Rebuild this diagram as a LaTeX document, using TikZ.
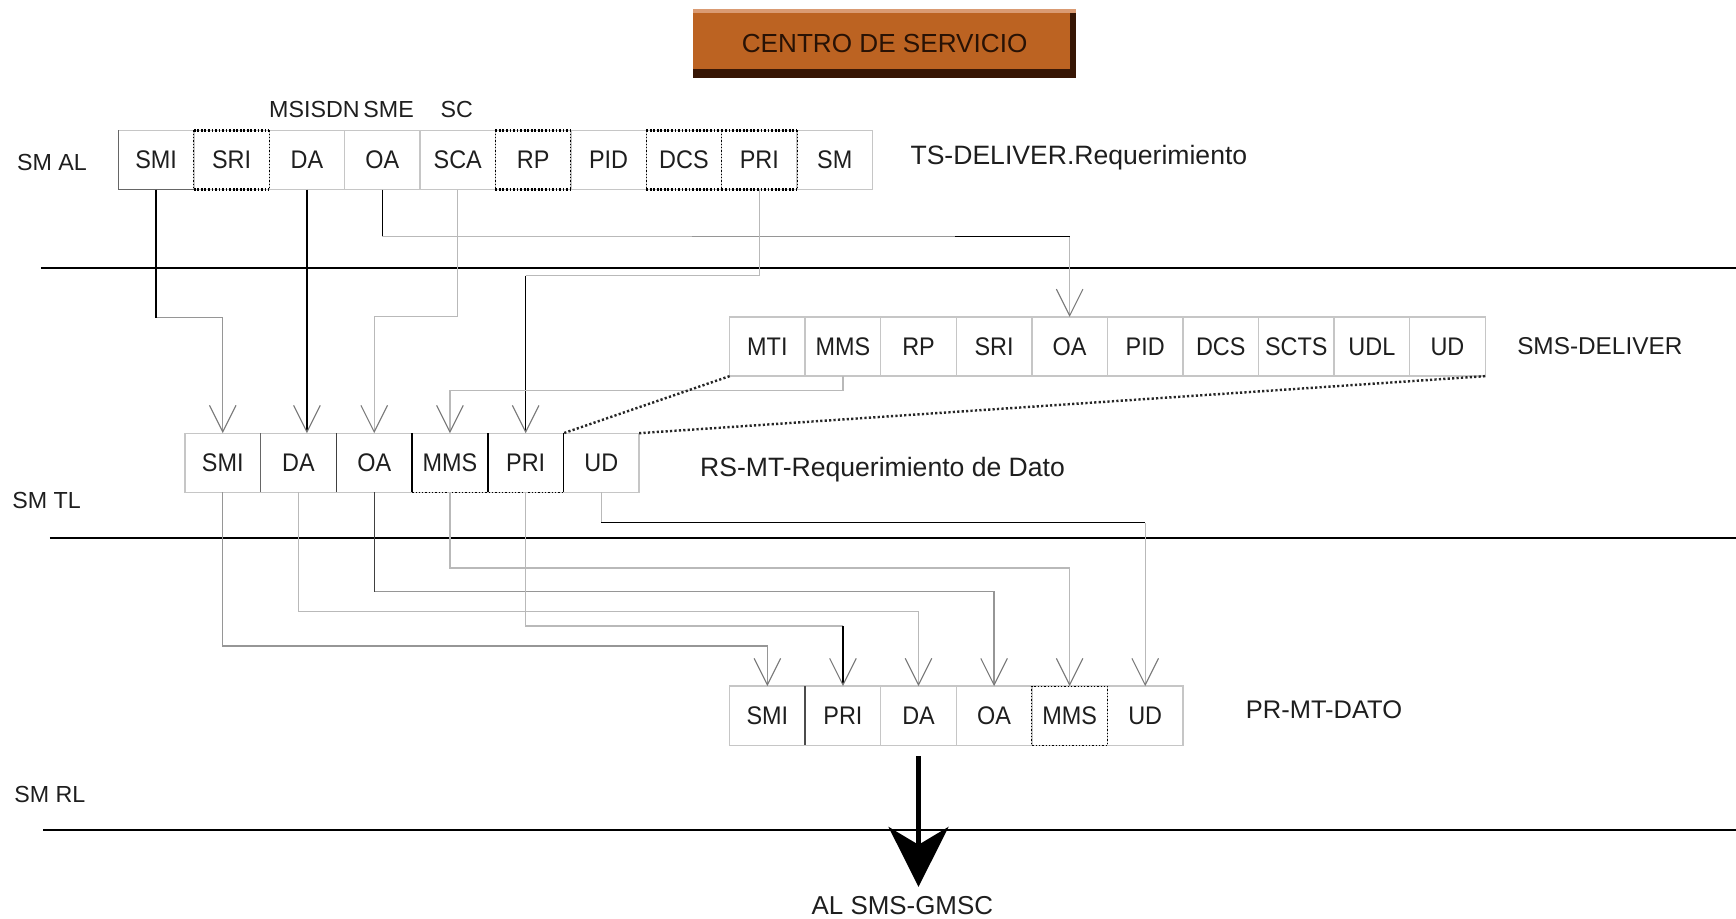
\documentclass[tikz,border=0pt]{standalone}
\usepackage{fontspec}
\setmainfont{Liberation Sans}
\newfontfamily\fldfont{Liberation Sans}[FakeStretch=0.92]
\usetikzlibrary{arrows.meta,calc}
\definecolor{brownbox}{RGB}{188,99,34}
\definecolor{browndark}{RGB}{55,22,5}
\definecolor{brownlight}{RGB}{218,155,115}
\definecolor{boxline}{RGB}{198,198,198}
\definecolor{ln1}{RGB}{150,150,150}
\definecolor{ln2}{RGB}{185,185,185}
\definecolor{arr}{RGB}{120,120,120}
\definecolor{txt}{RGB}{30,30,30}
\definecolor{cdstxt}{RGB}{40,18,5}
\begin{document}
\begin{tikzpicture}[x=0.5pt,y=-0.5pt,
 fld/.style={draw=boxline, line width=0.6pt, minimum width=34.1pt, minimum height=26.75pt, inner sep=0pt, outer sep=0pt, font=\fldfont\fontsize{11.5}{13}\selectfont, text=txt},
 lbl/.style={font=\fontsize{12}{14}\selectfont, text=txt, inner sep=0pt, anchor=west},
 lay/.style={font=\fontsize{10.5}{12}\selectfont, text=txt, inner sep=0pt},
 sepline/.style={line width=0.8pt, draw=black},
 vtip/.style={-{Straight Barb[length=12pt,width=12pt,line width=0.5pt,color=arr]}},
 gl/.style={draw=ln1, line width=0.6pt},
 gll/.style={draw=ln2, line width=0.6pt},
 bl/.style={draw=black, line width=0.7pt},
 dotb/.style={draw=black, line width=1.1pt, dash pattern=on 0.8pt off 0.8pt},
 dotn/.style={draw=black, line width=0.5pt, dash pattern=on 0.6pt off 0.9pt},
 expd/.style={draw=black!85, line width=1.1pt, dash pattern=on 1pt off 1pt}]

\useasboundingbox (0,0) rectangle (1568,830);

% service centre
\node[fill=brownbox, minimum width=173pt, minimum height=31pt, inner sep=0pt, outer sep=0pt,
  font=\fontsize{11.8}{14}\selectfont, text=cdstxt] (cds) at (799,39) {CENTRO DE SERVICIO};
\fill[browndark] (cds.south west) rectangle ([yshift=4pt]cds.south east);
\fill[browndark] ([xshift=-3pt]cds.south east) rectangle (cds.north east);
\fill[brownlight] (cds.north west) rectangle ([yshift=-2pt]cds.north east);

% layer separators
\draw[sepline] (37,242) -- (1568,242);
\draw[sepline] (45,486) -- (1568,486);
\draw[sepline] (39,750) -- (1568,750);

% layer labels
\node[lay] (smal) at (47,147) {SM AL};
\node[lay] (smtl) at (42,452) {SM TL};
\node[lay] (smrl) at (45,718) {SM RL};
\node[lay] (msisdn) at (284,99) {MSISDN};
\node[lay] (sme) at (351,99) {SME};
\node[lay] (sc) at (412.5,99) {SC};

% rows of fields
\foreach \t [count=\i] in {SMI,SRI,DA,OA,SCA,RP,PID,DCS,PRI,SM}
  \node[fld] (a-\t) at ({107+(\i-0.5)*68.1},144.5) {\t};
\foreach \t [count=\i] in {MTI,MMS,RP,SRI,OA,PID,DCS,SCTS,UDL,UD}
  \node[fld] (b-\t) at ({659+(\i-0.5)*68.25},313) {\t};
\foreach \t [count=\i] in {SMI,DA,OA,MMS,PRI,UD}
  \node[fld] (c-\t) at ({167+(\i-0.5)*68.4},418) {\t};
\foreach \t [count=\i] in {SMI,PRI,DA,OA,MMS,UD}
  \node[fld] (d-\t) at ({659+(\i-0.5)*68.25},646.5) {\t};

% row titles
\node[lbl] (tsd) at (822,142) {TS-DELIVER.Requerimiento};
\node[lbl, font=\fontsize{11}{13}\selectfont] (smsd) at (1370,313) {SMS-DELIVER};
\node[lbl] (rsmt) at (632,424) {RS-MT-Requerimiento de Dato};
\node[lbl, font=\fontsize{11.5}{13}\selectfont] (prmt) at (1125,641) {PR-MT-DATO};

% special borders
\foreach \t in {SRI,RP,DCS,PRI}{
  \draw[dotb] (a-\t.north west) -- (a-\t.north east);
  \draw[dotb] (a-\t.south west) -- (a-\t.south east);
  \draw[dotn] (a-\t.north west) -- (a-\t.south west);
  \draw[dotn] (a-\t.north east) -- (a-\t.south east);
}
\draw[draw=black!60, line width=0.6pt] (a-SMI.north west) -- (a-SMI.south west) -- (a-SMI.south east);
\draw[draw=black!60, line width=0.6pt] (c-DA.north west) -- (c-DA.south west);
\draw[draw=black!75, line width=0.6pt] (c-OA.north west) -- (c-OA.south west);
\draw[bl] (c-MMS.north west) -- (c-MMS.south west);
\draw[bl] (c-PRI.north west) -- (c-PRI.south west);
\draw[bl] (c-UD.north west) -- (c-UD.south west);
\draw[dotn] (c-MMS.south west) -- (c-PRI.south east);
\draw[draw=black!70, line width=0.7pt] (d-PRI.north west) -- (d-PRI.south west);
\draw[dotn] (d-MMS.north west) rectangle (d-MMS.south east);

% TS-DELIVER -> RS-MT / SMS-DELIVER
\draw[gl,vtip] (a-SMI.south |- 0,287) -| (c-SMI.north);
\draw[bl] (a-SMI.south) -- (a-SMI.south |- 0,287);
\draw[bl,vtip] (a-DA.south) -- (a-DA.south |- c-DA.north);
\draw[gll] (a-OA.south |- 0,213.5) -- (625,213.5);
\draw[gl] (625,213.5) -- (863,213.5);
\draw[gll,vtip] (b-OA.north |- 0,213.5) -- (b-OA.north);
\draw[bl] (863,213.5) -- (b-OA.north |- 0,213.5);
\draw[bl] (a-OA.south) -- (a-OA.south |- 0,213.5);
\draw[gll,vtip] (a-SCA.south) -- (a-SCA.south |- 0,286) -| (c-OA.north);
\draw[gll] (a-PRI.south) -- (a-PRI.south |- 0,249) -- (c-PRI.north |- 0,249);
\draw[bl,vtip] (c-PRI.north |- 0,249) -- (c-PRI.north);
\draw[gll,vtip] (b-MMS.south) -- (b-MMS.south |- 0,353) -| (c-MMS.north);

% expansion of UD
\draw[expd] (b-MTI.south west) -- (c-UD.north west);
\draw[expd] (b-UD.south east) -- (c-UD.north east);

% RS-MT -> PR-MT
\draw[gl,vtip] (c-SMI.south) -- (c-SMI.south |- 0,583.5) -| (d-SMI.north);
\draw[gll,vtip] (c-DA.south) -- (c-DA.south |- 0,552.5) -| (d-DA.north);
\draw[gl,vtip] (c-OA.south |- 0,534.4) -| (d-OA.north);
\draw[draw=black!75, line width=0.6pt] (c-OA.south) -- (c-OA.south |- 0,534.4);
\draw[gll,vtip] (c-MMS.south) -- (c-MMS.south |- 0,513) -| (d-MMS.north);
\draw[gll] (c-PRI.south) -- (c-PRI.south |- 0,565.5) -- (d-PRI.north |- 0,565.5);
\draw[bl,vtip] (d-PRI.north |- 0,565.5) -- (d-PRI.north);
\draw[gll] (c-UD.south) -- (c-UD.south |- 0,472);
\draw[bl] (c-UD.south |- 0,472) -- (d-UD.north |- 0,472);
\draw[gll,vtip] (d-UD.north |- 0,472) -- (d-UD.north);

% to SMS-GMSC
\node[lbl, anchor=center, font=\fontsize{11.7}{14}\selectfont] (gmsc) at (815,818) {AL SMS-GMSC};
\coordinate (tip) at (829.6,801);
\draw[line width=2.6pt, -{Stealth[length=27pt,width=27pt,inset=8pt]}] ([yshift=-5pt]d-DA.south) -- (d-DA.south |- tip);
\end{tikzpicture}
\end{document}
